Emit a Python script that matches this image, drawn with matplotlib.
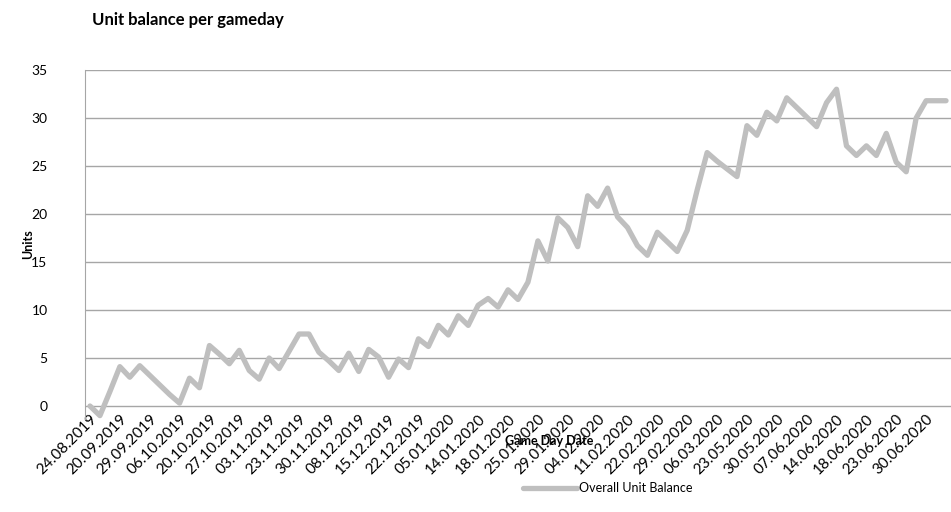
import matplotlib
matplotlib.use("Agg")
import matplotlib.pyplot as plt

plt.rcParams['font.family'] = ['Lato', 'DejaVu Sans']

# overall unit balance per game day
balance = [0, -1, 1.5, 4.1, 3.0, 4.2, 3.2, 2.2, 1.2, 0.3,
           2.9, 1.9, 6.3, 5.4, 4.4, 5.8, 3.7, 2.8, 5.0, 3.9,
           5.7, 7.5, 7.5, 5.6, 4.7, 3.7, 5.5, 3.6, 5.9, 5.1,
           3.0, 4.9, 4.0, 7.0, 6.2, 8.4, 7.4, 9.4, 8.4, 10.5,
           11.2, 10.3, 12.1, 11.1, 12.9, 17.2, 15.1, 19.6, 18.6, 16.6,
           21.9, 20.8, 22.7, 19.7, 18.6, 16.7, 15.7, 18.1, 17.1, 16.1,
           18.3, 22.5, 26.4, 25.5, 24.7, 23.9, 29.2, 28.2, 30.6, 29.7,
           32.1, 31.1, 30.1, 29.1, 31.6, 33.0, 27.1, 26.1, 27.1, 26.1,
           28.4, 25.4, 24.4, 30.0, 31.8, 31.8, 31.8]

# only every third game day carries a label
date_labels = ['24.08.2019', '20.09.2019', '29.09.2019', '06.10.2019', '20.10.2019',
               '27.10.2019', '03.11.2019', '23.11.2019', '30.11.2019', '08.12.2019',
               '15.12.2019', '22.12.2019', '05.01.2020', '14.01.2020', '18.01.2020',
               '25.01.2020', '29.01.2020', '04.02.2020', '11.02.2020', '22.02.2020',
               '29.02.2020', '06.03.2020', '23.05.2020', '30.05.2020', '07.06.2020',
               '14.06.2020', '18.06.2020', '23.06.2020', '30.06.2020']
y_ticks = [0, 5, 10, 15, 20, 25, 30, 35]

fig = plt.figure(figsize=(9.51, 5.12), dpi=100)
ax = fig.add_axes([85 / 951, 1 - 418.5 / 512, 1 - 85 / 951, (418.5 - 70) / 512])

x = list(range(len(balance)))
ax.plot(x, balance, color='#BFBFBF', linewidth=3.8, solid_joinstyle='round',
        solid_capstyle='round', label='Overall Unit Balance', zorder=3)

ax.set_xlim(-0.5, len(balance) - 0.5)
ax.set_ylim(-1.3, 35)
ax.set_yticks(y_ticks)
ax.set_yticklabels([str(v) for v in y_ticks], fontsize=10)
ax.grid(axis='y', color='#A6A6A6', linewidth=1.0)
ax.set_axisbelow(True)

ax.set_xticks(range(0, len(balance), 3))
ax.set_xticklabels(date_labels, rotation=45, ha='right', va='top',
                   rotation_mode='anchor', fontsize=11)
ax.tick_params(axis='x', length=0, pad=-5)
ax.tick_params(axis='y', length=0, pad=27)

for s in ['top', 'right', 'bottom']:
    ax.spines[s].set_visible(False)
ax.spines['left'].set_color('#A6A6A6')

fig.text(92 / 951, 1 - 20 / 512, 'Unit balance per gameday', fontsize=12,
         fontweight='bold', ha='left', va='center')
fig.text(28 / 951, 1 - 244 / 512, 'Units', fontsize=9, fontweight='bold',
         rotation=90, ha='center', va='center')
fig.text(549 / 951, 1 - 441 / 512, 'Game Day Date', fontsize=9, fontweight='bold',
         ha='center', va='center')
fig.legend(loc='center', bbox_to_anchor=(608 / 951, 1 - 488 / 512), frameon=False,
           fontsize=9, handlelength=4.3, handletextpad=0.15)

fig.savefig('out.png', dpi=100)
